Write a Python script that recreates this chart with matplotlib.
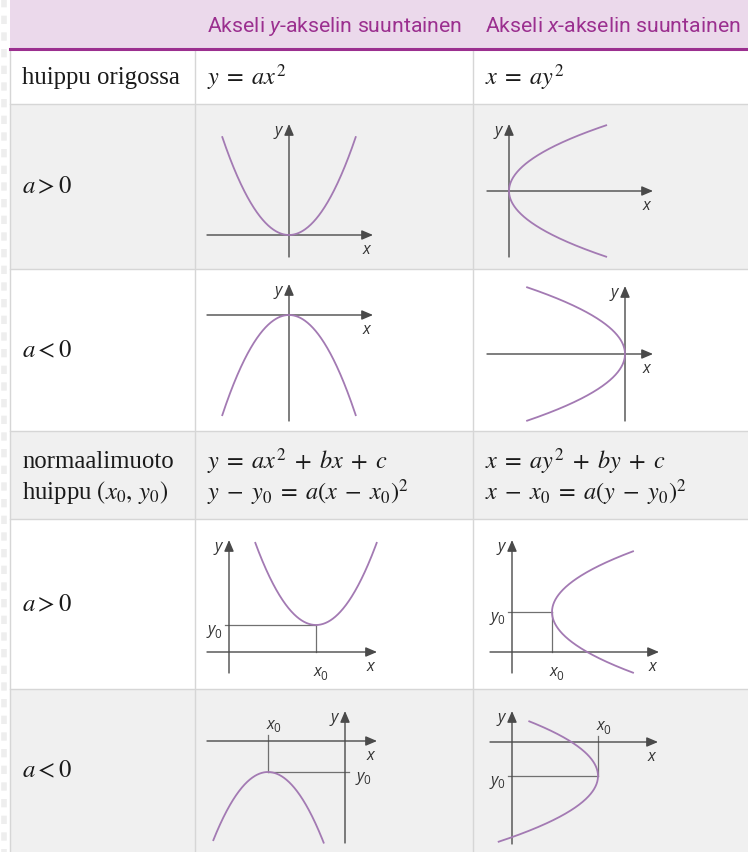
import numpy as np
import matplotlib
matplotlib.use('Agg')
import matplotlib.pyplot as plt
from matplotlib import font_manager

avail = {f.name for f in font_manager.fontManager.ttflist}
HEAD_FONT = 'Liberation Sans Narrow' if 'Liberation Sans Narrow' in avail else 'Roboto'
SERIF = 'Liberation Serif'
SANS = 'Open Sans'

plt.rcParams['mathtext.fontset'] = 'custom'
plt.rcParams['mathtext.rm'] = HEAD_FONT
plt.rcParams['mathtext.it'] = HEAD_FONT + ':italic'

# ---------------- content ----------------
header_labels = ["Akseli $y$-akselin suuntainen", "Akseli $x$-akselin suuntainen"]
row_labels = ["huippu origossa", r"$a > 0$", r"$a < 0$",
              "normaalimuoto", r"$a > 0$", r"$a < 0$"]
row_label2 = {3: r"huippu $(x_0,\,y_0)$"}
formulas_col2 = {0: [r"$y\;=\;ax^2$"],
                 3: [r"$y\;=\;ax^2\;+\;bx\;+\;c$", r"$y\;-\;y_0\;=\;a(x\;-\;x_0)^2$"]}
formulas_col3 = {0: [r"$x\;=\;ay^2$"],
                 3: [r"$x\;=\;ay^2\;+\;by\;+\;c$", r"$x\;-\;x_0\;=\;a(y\;-\;y_0)^2$"]}

# diagrams (order: row a>0 y|x, row a<0 y|x, normal a>0 y|x, normal a<0 y|x)
diag_orient = ['y', 'x', 'y', 'x', 'y', 'x', 'y', 'x']
diag_a = [0.022, 0.0225, -0.0225, -0.022, 0.0223, 0.022, -0.0228, -0.023]
vertex_u = [0, 0, 0, 0, 87, 40, -77, 86]
vertex_v = [0, 0, 0, 0, 27, 40, -31, -34]
curve_lo = [-67, -66, -67, -67, -61, -61, -55, -66]
curve_hi = [67, 66, 67, 67, 61, 61, 56, 55]
has_vertex_labels = [False, False, False, False, True, True, True, True]

# ---------------- layout (pixels) ----------------
W, H = 748, 853
row_edges = [0, 50, 105, 270, 432, 520, 690, 853]
col_edges = [10, 195, 473, 748]
row_bg = ['#ebd9eb', 'white', '#f0f0f0', 'white', '#f0f0f0', 'white', '#f0f0f0']
origin = [(289, 236), (509, 192), (289, 316), (625, 355),
          (229, 653), (512, 653), (345, 742), (512, 743)]
x_ext = [(-82, 84), (-22, 144), (-82, 84), (-138, 28),
         (-22, 148), (-22, 147), (-138, 32), (-22, 146)]
y_ext = [(-22, 111), (-66, 67), (-106, 31), (-67, 68),
         (-21, 112), (-21, 112), (-102, 30), (-102, 31)]

PURPLE = '#9b2f8f'
CURVE = '#a37ab3'
AXC = '#4a4a4a'
GUIDE = '#707070'
GRID = '#d6d6d6'
INK = '#1a1a1a'

fig = plt.figure(figsize=(W / 100, H / 100), dpi=100)
ax = fig.add_axes([0, 0, 1, 1])
ax.set_xlim(0, W)
ax.set_ylim(H, 0)
ax.axis('off')

# left decorative stripe
ax.plot([4, 4], [0, H], color='#eeeeee', lw=4, dashes=(1.5, 1.5), zorder=0)

# row backgrounds
for i in range(len(row_edges) - 1):
    ax.add_patch(plt.Rectangle((col_edges[0], row_edges[i]), W - col_edges[0],
                               row_edges[i + 1] - row_edges[i],
                               facecolor=row_bg[i], edgecolor='none', zorder=0))
# grid lines
for y in row_edges[2:-1]:
    ax.plot([col_edges[0], W], [y, y], color=GRID, lw=1.0, zorder=1)
for x in col_edges[1:3]:
    ax.plot([x, x], [row_edges[1] + 1, H], color=GRID, lw=1.0, zorder=1)
ax.plot([col_edges[0], col_edges[0]], [row_edges[1], H], color=GRID, lw=1.0, zorder=1)
ax.plot([col_edges[0], W], [row_edges[1], row_edges[1]], color=PURPLE, lw=2.2, zorder=2)

# header
for j, lab in enumerate(header_labels):
    ax.text(col_edges[j + 1] + 12, 26, lab, color=PURPLE, fontsize=15.3,
            family=HEAD_FONT, math_fontfamily='custom', va='center', ha='left')

# left labels
LFS = 17.8
for i, lab in enumerate(row_labels):
    yc = (row_edges[i + 1] + row_edges[i + 2]) / 2
    if i in row_label2:
        ax.text(22, yc - 14, lab, fontsize=LFS, family=SERIF, math_fontfamily='stix',
                va='center', ha='left', color=INK)
        ax.text(22, yc + 16, row_label2[i], fontsize=LFS, family=SERIF,
                math_fontfamily='stix', va='center', ha='left', color=INK)
    else:
        ax.text(22, yc, lab, fontsize=LFS, family=SERIF, math_fontfamily='stix',
                va='center', ha='left', color=INK)

# formulas
for col, forms in ((1, formulas_col2), (2, formulas_col3)):
    for i, lines in forms.items():
        yc = (row_edges[i + 1] + row_edges[i + 2]) / 2
        offs = [0] if len(lines) == 1 else [-14, 17]
        for ln, dy in zip(lines, offs):
            ax.text(col_edges[col] + 12, yc + dy, ln, fontsize=17.5, family=SERIF,
                    math_fontfamily='stix', va='center', ha='left', color=INK)

def arrow(p0, p1):
    ax.annotate('', xy=p1, xytext=p0,
                arrowprops=dict(arrowstyle='-|>,head_length=0.75,head_width=0.32',
                                mutation_scale=9, color=AXC, lw=1.0,
                                shrinkA=0, shrinkB=0), zorder=3)

def sublabel(x, y, base):
    ax.text(x - 3, y, base, fontsize=11.5, family=SANS, style='italic',
            color='#333333', ha='center', va='center', zorder=4)
    ax.text(x + 3.5, y + 4, '0', fontsize=8.5, family=SANS,
            color='#333333', ha='center', va='center', zorder=4)

for k in range(8):
    ox, oy = origin[k]
    x0e, x1e = x_ext[k]
    y0e, y1e = y_ext[k]
    arrow((ox + x0e, oy), (ox + x1e, oy))
    arrow((ox, oy - y0e), (ox, oy - y1e))
    ax.text(ox - 11, oy - y1e + 6, 'y', fontsize=11.5, family=SANS, style='italic',
            color='#333333', ha='center', va='center', zorder=4)
    ax.text(ox + x1e - 7, oy + 14, 'x', fontsize=11.5, family=SANS, style='italic',
            color='#333333', ha='center', va='center', zorder=4)

    t = np.linspace(curve_lo[k], curve_hi[k], 300)
    if diag_orient[k] == 'y':
        u = vertex_u[k] + t
        v = vertex_v[k] + diag_a[k] * t ** 2
    else:
        v = vertex_v[k] + t
        u = vertex_u[k] + diag_a[k] * t ** 2
    ax.plot(ox + u, oy - v, color=CURVE, lw=1.3, zorder=5, solid_capstyle='butt')

    if has_vertex_labels[k]:
        vx = ox + vertex_u[k]
        vy = oy - vertex_v[k]
        above = vertex_v[k] < 0
        vend = oy - 6 if above else oy
        ax.plot([vx, vx], [vy, vend], color=GUIDE, lw=0.9, zorder=2)
        hend = ox + 4 if vertex_u[k] < 0 else ox - 4
        ax.plot([vx, hend], [vy, vy], color=GUIDE, lw=0.9, zorder=2)
        if above:
            sublabel(vx + 5, oy - 17, 'x')
        else:
            sublabel(vx + 4, oy + 19, 'x')
        if vertex_u[k] < 0:
            sublabel(ox + 18, vy + 4, 'y')
        else:
            sublabel(ox - 15, vy + 4, 'y')

fig.savefig('out.png', dpi=100)
